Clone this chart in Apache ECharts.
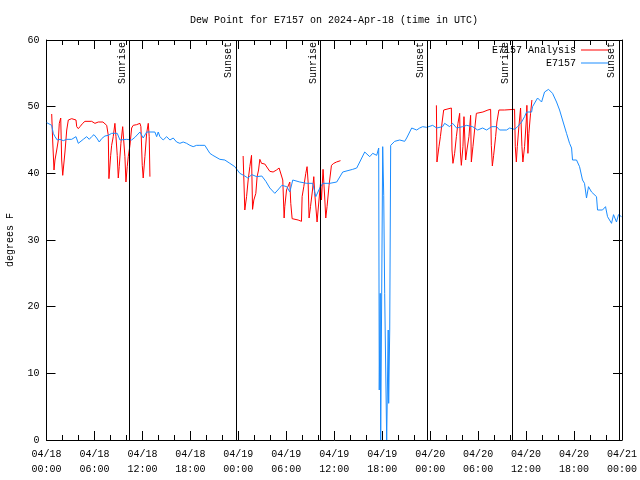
<!DOCTYPE html>
<html><head><meta charset="utf-8">
<script src="https://cdn.jsdelivr.net/npm/echarts@6/dist/echarts.min.js"></script>
<style>html,body{margin:0;padding:0;background:#fff}#c{width:640px;height:480px}</style>
</head><body><div id="c"></div>
<script>
// Hours since 2024-04-18 00:00 UTC
const blueHours = [0.03,0.65,0.85,1.06,1.35,1.69,2.1,2.53,3.15,3.35,3.69,3.98,4.19,4.6,5.03,5.35,5.65,5.94,6.28,6.6,6.9,7.31,7.73,8.15,8.85,9.19,10.03,10.65,11.06,11.69,12.1,12.53,12.94,13.56,13.78,13.98,14.19,14.6,15.03,15.44,15.85,16.28,16.69,17.1,17.53,17.94,18.35,18.78,19.19,19.81,20.06,20.44,20.81,21.69,22.31,22.94,23.56,24.19,24.81,25.19,25.69,26.31,26.94,27.44,27.94,28.56,28.94,29.44,30.06,30.44,30.81,31.69,32.56,33.31,33.69,34.19,34.56,35.44,36.31,37.06,38.31,38.81,39.19,39.81,40.44,40.81,41.31,41.56,41.63,41.75,41.81,42.06,42.19,42.31,42.56,42.75,42.81,42.94,43.06,43.56,44.19,44.81,45.06,45.69,46.31,46.69,47.06,47.56,48.31,48.81,49.56,49.81,50.44,50.81,51.31,52.06,52.56,53.31,53.94,54.56,55.06,55.69,56.31,56.69,57.56,57.94,58.56,58.94,59.44,59.81,60.06,60.69,60.81,61.44,61.94,62.31,62.81,63.31,63.81,64.19,64.56,65.06,65.44,65.69,65.81,66.31,66.69,67.06,67.31,67.56,67.81,68.19,68.81,68.94,69.56,69.94,70.19,70.69,70.94,71.31,71.56,71.94];
const blueValues = [47.6,47.2,46.0,45.5,45.0,45.1,44.9,45.1,45.1,45.3,45.5,44.5,44.8,45.1,45.5,45.1,45.5,45.8,45.3,44.7,45.2,45.6,45.7,46.0,46.0,45.0,45.1,45.0,45.4,46.2,45.3,46.2,46.2,46.2,45.5,46.2,45.5,45.0,45.5,45.0,45.3,44.7,44.5,44.7,44.5,44.2,44.0,44.2,44.2,44.2,43.9,43.0,42.7,42.1,42.0,41.5,41.0,40.0,39.6,39.3,39.8,39.5,39.6,38.8,37.8,37.0,37.5,38.2,38.0,37.2,39.0,38.7,38.5,38.5,36.5,37.8,38.5,38.5,38.7,40.2,40.6,40.8,41.7,43.2,42.5,43.0,42.7,43.8,7.5,22,0,44.0,36.7,22,0,16.5,5.5,16.5,44.2,44.8,45.0,44.8,45.3,46.8,46.5,46.8,47.0,46.9,47.2,46.8,47.0,47.5,47.0,47.5,46.8,47.0,47.2,47.0,46.5,46.8,46.5,47.0,47.0,46.5,46.5,46.8,46.6,47.0,47.7,48.5,49.2,49.2,50.0,51.3,50.7,52.2,52.6,52.0,50.7,49.5,48.0,46.0,44.5,43.8,42.0,42.0,41.0,39.0,38.5,36.3,38.0,37.2,36.5,34.5,34.5,35.0,33.5,32.5,33.8,32.7,33.8,33.5];

const redHours1 = [0.65,0.78,0.94,1.06,1.28,1.48,1.6,1.78,1.9,2.03,2.31,2.53,2.73,3.15,3.69,3.78,3.98,4.19,4.53,4.81,5.65,6.06,6.48,7.06,7.53,7.73,7.81,8.03,8.15,8.35,8.56,8.69,8.85,8.98,9.1,9.31,9.53,9.69,9.81,9.94,10.1,10.23,10.44,10.65,10.85,11.28,11.69,11.81,11.98,12.1,12.31,12.53,12.73,12.85,12.94];
const redValues1 = [48.9,44.7,40.5,42.0,43.5,45.0,47.5,48.3,42.0,39.7,43.2,46.5,48.0,48.2,48.0,47.0,46.7,47.0,47.5,47.8,47.8,47.5,47.7,47.7,47.2,45.7,39.2,42.7,44.2,45.5,47.5,45.5,42.7,39.3,41.0,44.5,47.0,47.2,42.5,38.7,41.0,42.5,44.2,46.8,47.2,47.3,47.5,47.0,41.2,39.3,42.5,46.0,47.5,45.5,39.5];
const redHours2 = [24.6,24.81,25.03,25.23,25.44,25.65,25.78,25.94,26.19,26.35,26.53,26.69,26.9,27.31,27.65,27.94,28.35,28.78,29.1,29.56,29.73,29.81,30.03,30.44,30.56,30.73,31.48,31.9,31.98,32.19,32.44,32.6,32.73,32.85,33.03,33.28,33.44,33.56,33.85,33.98,34.28,34.4,34.6,34.81,34.94,35.1,35.35,35.65,35.94,36.28,36.78];
const redValues2 = [42.6,34.5,36.5,39.0,41.0,42.7,34.6,36.0,37.0,39.5,40.5,42.1,41.5,41.4,40.8,40.3,40.2,40.5,40.8,39.0,33.3,35.0,37.5,38.7,35.5,33.2,33.0,32.8,36.5,38.0,40.0,41.0,38.7,33.3,35.0,37.5,39.5,37.0,32.7,34.5,38.5,36.0,40.6,36.3,33.3,35.0,38.2,41.2,41.5,41.7,41.9];
const redHours3 = [48.78,48.85,48.98,49.1,49.28,49.53,49.69,49.81,50.65,50.73,50.85,51.06,51.28,51.48,51.69,51.78,51.9,52.1,52.23,52.44,52.6,52.85,53.06,53.15,53.35,53.56,53.78,53.98,54.6,55.23,55.56,55.65,55.78,55.94,56.19,56.35,56.6,57.31,58.56,58.65,58.78,58.9,59.1,59.31,59.48,59.6,59.81,60.03,60.1,60.23,60.35,60.56,60.73];
const redValues3 = [50.2,41.7,42.0,44.0,45.5,48.0,49.5,49.8,49.8,43.5,41.5,43.0,45.5,47.5,49.0,43.2,41.2,44.0,48.5,42.0,43.5,45.5,48.7,41.7,44.0,46.5,49.0,49.2,49.2,49.5,49.6,44.2,41.1,42.7,45.5,47.7,49.5,49.5,49.6,44.0,41.7,44.0,47.0,49.8,44.0,41.7,44.0,48.0,50.2,43.0,46.0,49.0,51.0];

const sunHours = [10.31, 23.69, 34.25, 47.6, 58.25, 71.6];
const sunNames = ['Sunrise','Sunset','Sunrise','Sunset','Sunrise','Sunset'];
const yTicks = [0,10,20,30,40,50,60];

const FONT = 'Liberation Mono';
const RED = '#ff0000', BLUE = '#1a8cff';
function zip(xs, ys){ return xs.map((x,i)=>[x, ys[i]]); }
const redData = zip(redHours1, redValues1).concat([[18, null]], zip(redHours2, redValues2), [[42, null]], zip(redHours3, redValues3));
const blueData = zip(blueHours, blueValues);
function xLabel(v){
  const day = 18 + Math.floor(v/24);
  const hh = v % 24;
  return '04/' + String(day).padStart(2,'0') + '\n' + String(hh).padStart(2,'0') + ':00';
}
const axisLine = {show:true, onZero:false, lineStyle:{color:'#000', width:1}};
const tick = {show:true, inside:true, length:9, lineStyle:{color:'#000'}};
const minor = {show:true, splitNumber:3, length:5, lineStyle:{color:'#000'}};
const legendText = {fontFamily:FONT, fontSize:10, color:'#000'};
const chart = echarts.init(document.getElementById('c'), null, {renderer:'canvas'});
chart.setOption({
  animation:false,
  backgroundColor:'#fff',
  title:{text:'Dew Point for E7157 on 2024-Apr-18 (time in UTC)', left:185, top:10,
    textStyle:{fontFamily:FONT, fontSize:10, fontWeight:'normal', color:'#000'}},
  legend:[
    {data:['E7157 Analysis'], right:31, top:45, padding:0, align:'right', itemWidth:28, itemHeight:1, icon:'rect', textStyle:legendText},
    {data:['E7157'], right:31, top:58, padding:0, align:'right', itemWidth:28, itemHeight:1, icon:'rect', textStyle:legendText}
  ],
  grid:{left:46.5, right:18, top:40, bottom:40, containLabel:false, outerBoundsMode:'none'},
  xAxis:[
    {type:'value', min:0, max:72, interval:6, position:'bottom',
      axisLine:axisLine, splitLine:{show:false}, axisTick:tick, minorTick:minor,
      axisLabel:{formatter:xLabel, fontFamily:FONT, fontSize:10, color:'#000', lineHeight:15, margin:7, showMinLabel:true, showMaxLabel:true}},
    {type:'value', min:0, max:72, interval:6, position:'top',
      axisLine:axisLine, splitLine:{show:false}, axisTick:tick, minorTick:minor,
      axisLabel:{show:false}}
  ],
  yAxis:[
    {type:'value', min:yTicks[0], max:yTicks[yTicks.length-1], interval:10, position:'left',
      name:'degrees F', nameLocation:'middle', nameGap:31, nameRotate:90,
      nameTextStyle:{fontFamily:FONT, fontSize:10, color:'#000'},
      axisLine:axisLine, splitLine:{show:false}, axisTick:tick,
      axisLabel:{fontFamily:FONT, fontSize:10, color:'#000', margin:7}},
    {type:'value', min:yTicks[0], max:yTicks[yTicks.length-1], interval:10, position:'right',
      axisLine:axisLine, splitLine:{show:false}, axisTick:tick,
      axisLabel:{show:false}}
  ],
  series:[
    {name:'E7157 Analysis', type:'line', data:redData, showSymbol:false, symbol:'none', connectNulls:false,
      color:RED, lineStyle:{color:RED, width:1}, itemStyle:{color:RED}, silent:true},
    {name:'E7157', type:'line', data:blueData, showSymbol:false, symbol:'none',
      color:BLUE, lineStyle:{color:BLUE, width:1}, itemStyle:{color:BLUE}, silent:true,
      markLine:{silent:true, symbol:['none','none'], animation:false,
        lineStyle:{color:'#000', width:1, type:'solid'},
        label:{show:true, position:'insideEndTop', formatter:p=>p.name, fontFamily:FONT, fontSize:10, color:'#000', distance:2},
        data: sunHours.map((h,i)=>({xAxis:h, name:sunNames[i]}))}}
  ]
});
</script></body></html>
